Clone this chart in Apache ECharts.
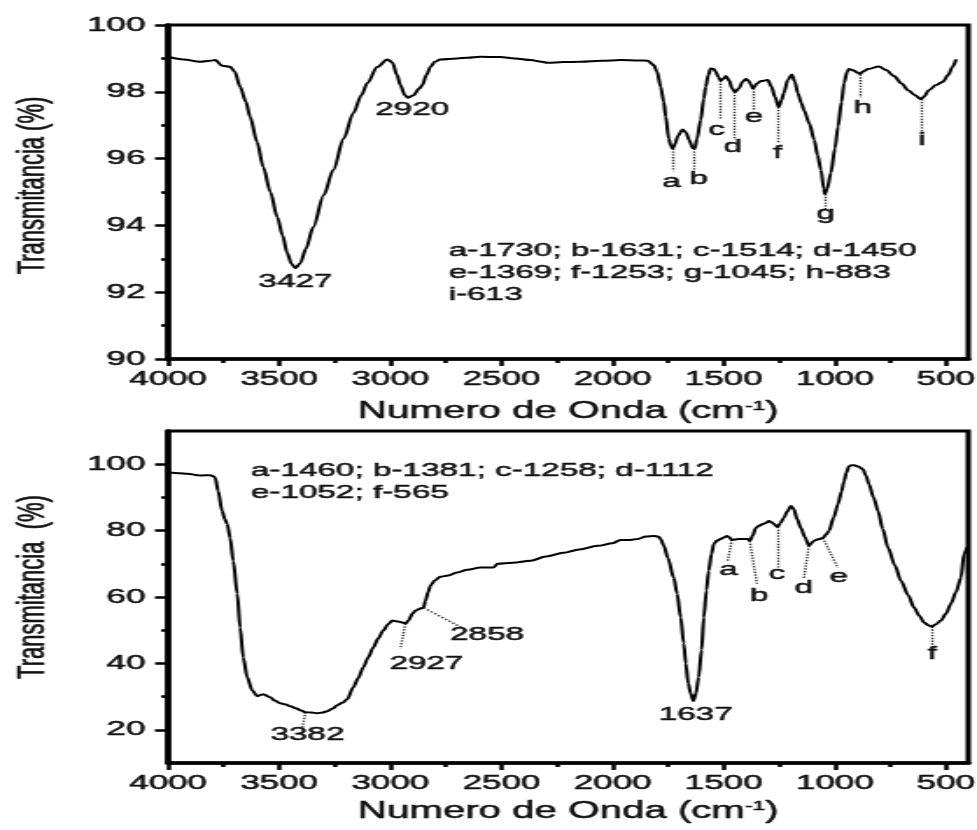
<!DOCTYPE html>
<html><head><meta charset="utf-8">
<script src="https://cdn.jsdelivr.net/npm/echarts@6/dist/echarts.min.js"></script>
<style>
html,body{margin:0;padding:0;background:#fff;overflow:hidden;}
#wrap{width:977px;height:830px;overflow:hidden;position:relative;}
#chart{width:558px;height:830px;transform:scaleX(1.75090);transform-origin:0 0;}
</style></head>
<body><div id="wrap"><div id="chart"></div></div>
<script>
// ---------- DATA ----------
const topWavenumber = [4000,3930,3856,3810,3788,3757,3721,3700,3676,3650,3631,3600,3572,3540,3509,3485,3464,3445,3427,3405,3380,3347,3300,3257,3210,3167,3130,3104,3059,3014,2991,2970,2955,2935,2920,2896,2870,2856,2838,2820,2800,2775,2700,2653,2595,2505,2440,2369,2320,2293,2220,2144,2050,1964,1880,1842,1815,1800,1784,1770,1761,1748,1738,1730,1718,1707,1685,1670,1655,1640,1631,1620,1604,1590,1581,1570,1559,1545,1536,1525,1514,1500,1491,1477,1462,1450,1432,1415,1401,1388,1378,1369,1350,1333,1302,1285,1270,1253,1240,1230,1212,1194,1180,1167,1150,1139,1115,1093,1078,1063,1050,1045,1035,1018,1000,986,970,959,945,937,925,914,900,887,883,870,851,802,770,734,700,671,640,613,600,577,545,514,491,470,455];
const topTransmittance = [99.05,98.97,98.9,98.93,98.95,98.78,98.75,98.6,98.15,97.7,97.25,96.5,95.75,95.0,94.25,93.7,93.17,92.85,92.72,92.87,93.3,93.95,94.9,95.66,96.6,97.36,97.9,98.26,98.74,98.97,98.88,98.5,98.2,97.9,97.82,97.9,98.1,98.2,98.5,98.74,98.9,98.97,99.0,99.02,99.05,99.04,99.0,98.95,98.9,98.87,98.89,98.9,98.93,98.95,98.94,98.93,98.8,98.6,98.15,97.7,97.25,96.6,96.38,96.3,96.45,96.68,96.87,96.78,96.55,96.32,96.3,96.6,97.15,97.8,98.15,98.5,98.7,98.68,98.6,98.45,98.33,98.4,98.47,98.35,98.1,97.99,98.1,98.3,98.38,98.33,98.22,98.1,98.25,98.32,98.35,98.15,97.85,97.54,97.75,97.96,98.35,98.52,98.3,97.96,97.65,97.45,97.05,96.56,96.1,95.66,95.1,94.94,95.1,95.57,96.3,96.96,97.7,98.26,98.6,98.68,98.66,98.63,98.58,98.53,98.52,98.62,98.68,98.76,98.65,98.47,98.25,98.05,97.9,97.78,97.85,98.05,98.2,98.3,98.5,98.75,98.97];

const bottomWavenumber = [4000,3950,3914,3856,3811,3795,3788,3775,3757,3745,3734,3721,3707,3689,3676,3662,3644,3622,3599,3585,3572,3541,3520,3496,3470,3450,3425,3405,3382,3355,3329,3305,3284,3260,3239,3215,3194,3167,3145,3122,3100,3077,3055,3032,3010,2991,2964,2945,2932,2919,2900,2887,2865,2851,2842,2830,2820,2800,2775,2740,2700,2653,2595,2536,2518,2450,2369,2300,2221,2150,2068,2000,1964,1920,1887,1850,1815,1795,1784,1770,1752,1725,1710,1694,1680,1671,1660,1649,1637,1625,1613,1600,1590,1578,1568,1555,1545,1530,1514,1500,1486,1475,1464,1450,1432,1410,1392,1383,1370,1356,1340,1324,1310,1297,1285,1275,1258,1245,1230,1214,1198,1185,1170,1153,1135,1117,1105,1095,1075,1054,1040,1027,1005,986,970,959,948,937,925,914,895,874,860,847,826,806,785,761,730,703,670,644,620,599,580,565,545,523,500,478,455,433,419,405];
const bottomTransmittance = [97.6,97.3,97.1,96.6,96.7,96.3,95.9,91.9,85.9,83.5,82,77.8,70.9,61,50.8,41.8,35.8,31.9,30.1,30.5,30.7,29.8,28.8,28,27.6,27.1,26.5,25.9,25.3,25.2,25,25.2,25.6,26.4,27.4,28.2,29.2,32.8,35.5,38.8,41.8,44.8,47.5,49.9,51.8,52.9,52.6,52.3,52,52.9,55,55.9,56.5,56.8,58.9,61.5,63.4,65,66.1,66.5,67.4,68.2,68.9,68.9,70,70.3,70.9,72.2,73.3,74.3,75.4,76.2,77.2,77.2,77.5,78.2,78.4,78.2,77.5,75.5,71.8,65.8,61,53.8,46,40,34,31,28.7,31,35.8,44,53.8,62,67.9,73,76,77,77.5,77.9,78.4,78,77.2,77.3,77.5,77.5,77.5,76.9,78.5,80.8,81.5,82,82.3,82.9,82.5,82,81.1,82.3,83.8,85.8,87.4,86.5,83.5,80.8,78,75.4,76.3,76.9,77.4,77.8,78.8,79.9,84,88,91.8,94.9,97.5,99.4,99.7,99.7,99.3,98.5,96.5,94,90,85.9,80.5,74.8,69.5,64.9,60.5,56.8,54.3,52.3,51.5,51.1,51.8,52.9,55,58,61.5,65.8,73,75];

// tick labels
const xMajorTicks = [500,1000,1500,2000,2500,3000,3500,4000];
const xMinorTicks = [750,1250,1750,2250,2750,3250,3750];
const topYMajorTicks = [90,92,94,96,98,100];
const bottomYMajorTicks = [20,40,60,80,100];
const bottomYMinorTicks = [30,50,70,90];

// peak labels (text, wavenumber, transmittance)
const topLabelText = ['3427','2920','a','b','c','d','e','f','g','h','i'];
const topLabelX = [3427,2902,1734,1613,1532,1460,1365,1257,1041,874,608];
const topLabelY = [92.31,97.45,95.3,95.4,96.86,96.35,97.25,96.17,94.35,97.52,96.55];
// dotted drop lines (wavenumber, from, to)
const topLineX = [1730,1631,1514,1450,1369,1253,1045,883,613];
const topLineFrom = [96.3,96.3,98.33,97.99,98.1,97.54,94.94,98.52,97.78];
const topLineTo = [95.62,95.62,97.2,96.56,97.46,96.47,94.46,97.84,96.7];

const bottomLabelText = ['3382','2927','2858','1637','a','b','c','d','e','f'];
const bottomLabelX = [3373,2838,2565,1626,1478,1342,1261,1140,982,563];
const bottomLabelY = [18.4,40.0,48.7,24.6,68.2,60.4,67.0,62.8,66.1,43.0];
const bottomLineX1 = [3382,2932,2851,1464,1383,1258,1117,1054,565];
const bottomLineY1 = [25.3,52.0,56.8,77.2,76.9,81.1,75.4,77.8,51.1];
const bottomLineX2 = [3396,2955,2671,1482,1351,1258,1140,987,565];
const bottomLineY2 = [20.5,44.4,50.5,70.9,64.0,68.8,65.5,68.8,44.8];

const topNoteLines = ['a-1730; b-1631; c-1514; d-1450','e-1369; f-1253; g-1045; h-883','i-613'];
const bottomNoteLines = ['a-1460; b-1381; c-1258; d-1112','e-1052; f-565'];

const xName = 'Numero de Onda (cm{s|-1})';
const topYName = 'Transmitancia (%)';
const bottomYName = 'Transmitancia  (%)';

// ---------- CHART ----------
const FONT = "'Liberation Sans', Arial, Helvetica, sans-serif";
const INK = '#111';
const HEAVY = {textBorderColor: INK, textBorderWidth: 0.5};
const zip = (a, b) => a.map((v, i) => [v, b[i]]);
const plain = v => String(v);

function xMain(gi){
  return {
    gridIndex: gi, type: 'value', min: 400, max: 4000, inverse: true, position: 'bottom',
    axisLine: {show: true, onZero: false, lineStyle: {color: '#000', width: 3.5}},
    axisTick: {show: true, customValues: xMajorTicks, length: 7, lineStyle: {color: '#000', width: 2.5}},
    axisLabel: Object.assign({show: true, customValues: xMajorTicks, formatter: plain, fontSize: 20, fontFamily: FONT, color: INK, margin: 10}, HEAVY),
    splitLine: {show: false},
    name: xName, nameLocation: 'middle', nameGap: gi === 0 ? 41 : 37,
    nameTextStyle: Object.assign({fontSize: 23, fontFamily: FONT, color: INK,
      rich: {s: Object.assign({fontSize: 13, fontFamily: FONT, color: INK, verticalAlign: 'top', padding: [0,0,11,0]}, HEAVY)}}, HEAVY)
  };
}
function xMinor(gi){
  return {
    gridIndex: gi, type: 'value', min: 400, max: 4000, inverse: true, position: 'bottom',
    axisLine: {show: false},
    axisTick: {show: true, customValues: xMinorTicks, length: 4, lineStyle: {color: '#000', width: 2.5}},
    axisLabel: {show: false}, splitLine: {show: false}
  };
}
function labelSeries(xi, yi, texts, xs, ys){
  return {
    type: 'scatter', xAxisIndex: xi, yAxisIndex: yi, symbolSize: 0, silent: true, z: 6,
    itemStyle: {color: '#000', opacity: 1},
    emphasis: {disabled: true},
    data: texts.map((t, i) => ({name: t, value: [xs[i], ys[i]]})),
    label: Object.assign({show: true, position: 'inside', formatter: '{b}', fontSize: 19, fontFamily: FONT, color: INK, opacity: 1}, HEAVY)
  };
}

const option = {
  animation: false,
  backgroundColor: '#fff',
  grid: [
    {left: 96, width: 457, top: 25, height: 334, containLabel: false, outerBoundsMode: 'none',
     show: true, borderColor: '#000', borderWidth: 3, backgroundColor: 'transparent'},
    {left: 96, width: 457, top: 431, height: 332, containLabel: false, outerBoundsMode: 'none',
     show: true, borderColor: '#000', borderWidth: 3, backgroundColor: 'transparent'}
  ],
  xAxis: [xMain(0), xMinor(0), xMain(1), xMinor(1)],
  yAxis: [
    {gridIndex: 0, type: 'value', min: 90, max: 100, interval: 2,
     axisLine: {show: true, onZero: false, lineStyle: {color: '#000', width: 3.5}},
     axisTick: {show: true, length: 7.5, lineStyle: {color: '#000', width: 2.5}},
     minorTick: {show: true, splitNumber: 2, length: 4, lineStyle: {color: '#000', width: 2.5}},
     axisLabel: Object.assign({fontSize: 20, fontFamily: FONT, color: INK, margin: 13, formatter: plain}, HEAVY),
     splitLine: {show: false}, minorSplitLine: {show: false},
     name: topYName, nameLocation: 'middle', nameGap: 66,
     nameTextStyle: Object.assign({fontSize: 22, fontFamily: FONT, color: INK, padding: [0,0,0,13]}, HEAVY)},
    {gridIndex: 1, type: 'value', min: 10, max: 110,
     axisLine: {show: true, onZero: false, lineStyle: {color: '#000', width: 3.5}},
     axisTick: {show: true, customValues: bottomYMajorTicks, length: 7.5, lineStyle: {color: '#000', width: 2.5}},
     axisLabel: Object.assign({customValues: bottomYMajorTicks, fontSize: 20, fontFamily: FONT, color: INK, margin: 13, formatter: plain}, HEAVY),
     splitLine: {show: false},
     name: bottomYName, nameLocation: 'middle', nameGap: 66,
     nameTextStyle: Object.assign({fontSize: 22, fontFamily: FONT, color: INK, padding: [0,0,0,20]}, HEAVY)},
    {gridIndex: 1, type: 'value', min: 10, max: 110, position: 'left',
     axisLine: {show: false},
     axisTick: {show: true, customValues: bottomYMinorTicks, length: 4, lineStyle: {color: '#000', width: 2.5}},
     axisLabel: {show: false}, splitLine: {show: false}}
  ],
  graphic: [
    {type: 'text', left: 256, top: 240, silent: true,
     style: {text: topNoteLines.join('\n'), fontSize: 19, fontFamily: FONT, lineHeight: 22, fill: INK, stroke: INK, lineWidth: 0.5}},
    {type: 'text', left: 143, top: 460, silent: true,
     style: {text: bottomNoteLines.join('\n'), fontSize: 19, fontFamily: FONT, lineHeight: 22, fill: INK, stroke: INK, lineWidth: 0.5}}
  ],
  series: [
    {type: 'line', xAxisIndex: 0, yAxisIndex: 0, data: zip(topWavenumber, topTransmittance),
     showSymbol: false, smooth: 0.3, smoothMonotone: 'x', lineStyle: {color: '#000', width: 2}, z: 5,
     markLine: {silent: true, symbol: ['none','none'], label: {show: false},
       lineStyle: {color: '#333', type: 'dotted', width: 1.4},
       data: topLineX.map((x, i) => [{coord: [x, topLineFrom[i]]}, {coord: [x, topLineTo[i]]}])}},
    labelSeries(0, 0, topLabelText, topLabelX, topLabelY),
    {type: 'line', xAxisIndex: 2, yAxisIndex: 1, data: zip(bottomWavenumber, bottomTransmittance),
     showSymbol: false, smooth: 0.3, smoothMonotone: 'x', lineStyle: {color: '#000', width: 2}, z: 5,
     markLine: {silent: true, symbol: ['none','none'], label: {show: false},
       lineStyle: {color: '#333', type: 'dotted', width: 1.4},
       data: bottomLineX1.map((x, i) => [{coord: [x, bottomLineY1[i]]}, {coord: [bottomLineX2[i], bottomLineY2[i]]}])}},
    labelSeries(2, 1, bottomLabelText, bottomLabelX, bottomLabelY)
  ]
};
const chart = echarts.init(document.getElementById('chart'), null, {renderer: 'canvas'});
chart.setOption(option);
</script>
</body></html>
